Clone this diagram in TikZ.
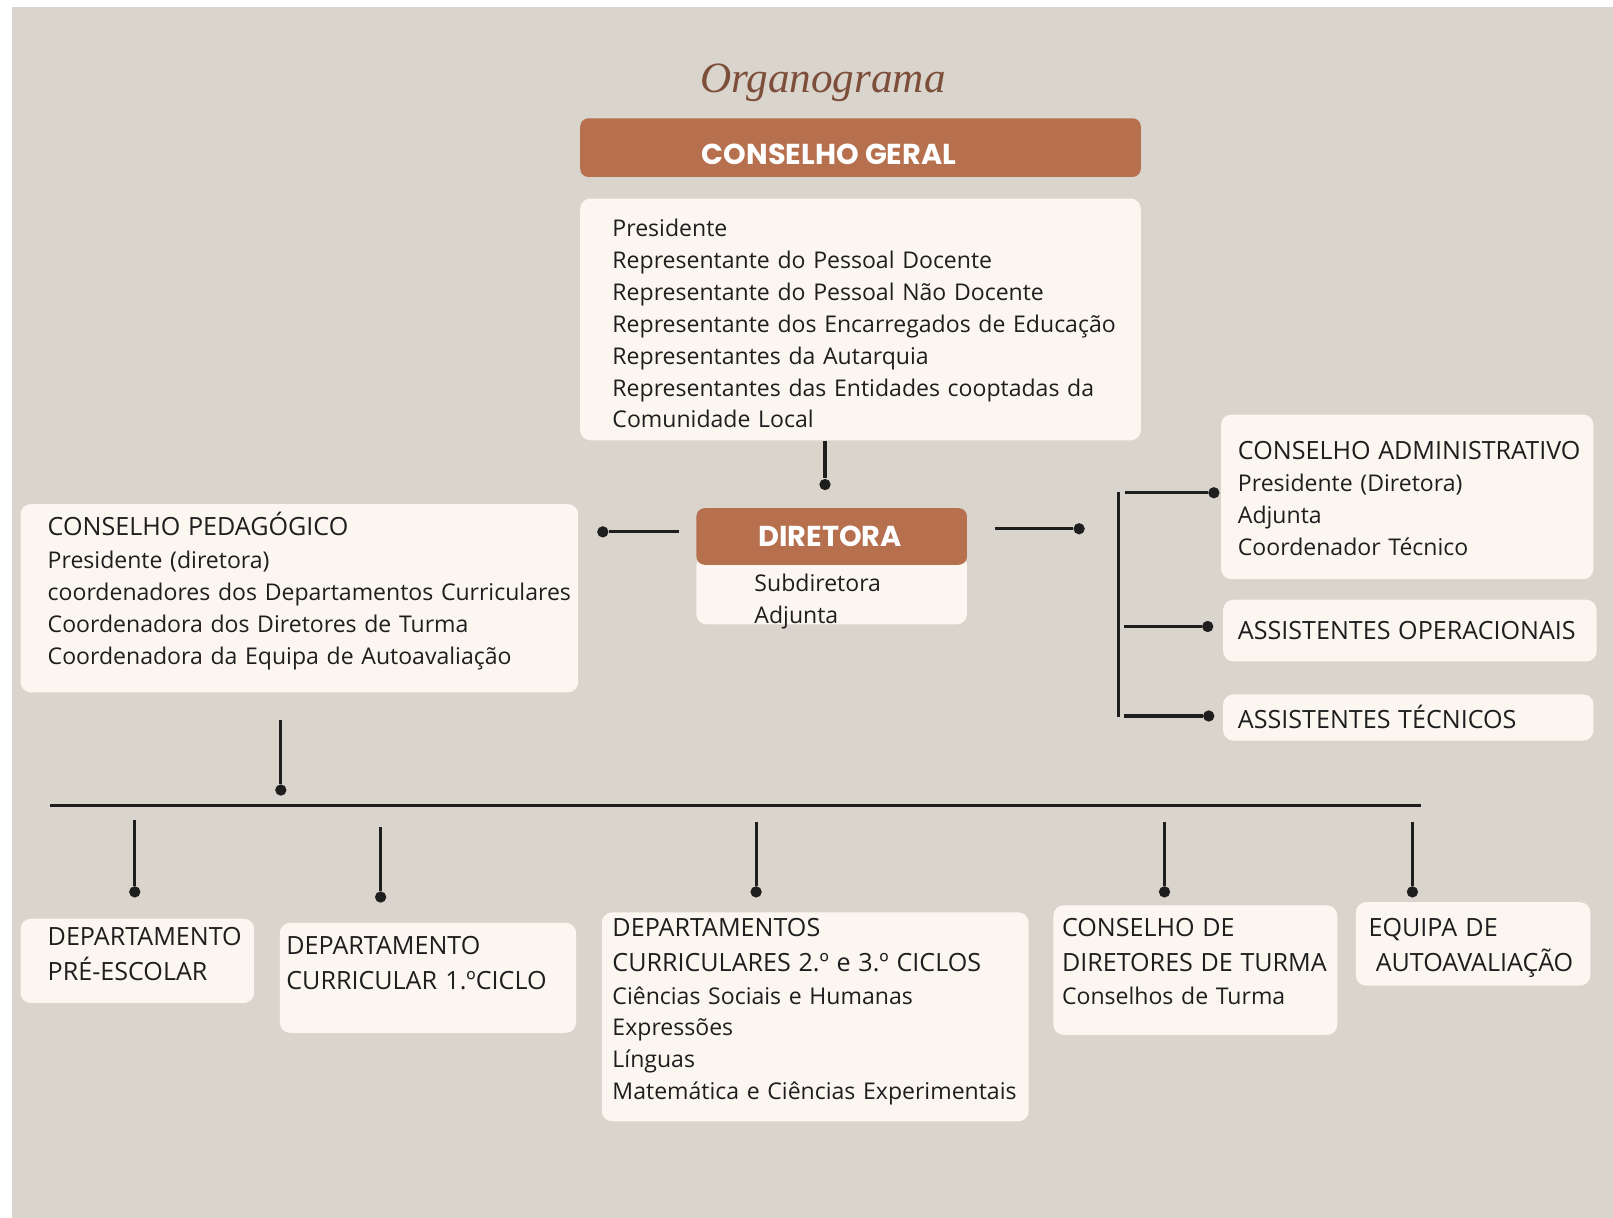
\documentclass[tikz,border=0pt]{standalone}
\usepackage{fontspec}
\setmainfont{Open Sans}
\newfontfamily\headfont{Poppins}
\newfontfamily\titlefont{Liberation Serif}
\usetikzlibrary{fit,calc}
\definecolor{paper}{HTML}{D9D4CC}
\definecolor{card}{HTML}{FBF7F0}
\definecolor{terra}{HTML}{B6704E}
\definecolor{ink}{HTML}{1E1E1E}
\definecolor{titlebrown}{HTML}{7D4E3A}
\newcommand{\capfont}{\fontsize{12.2}{15.5}\selectfont}

\begin{document}
\begin{tikzpicture}[x=0.5pt,y=-0.5pt,
  card/.style={fill=card,draw=none,rounded corners=5pt,inner sep=0pt},
  bar/.style={fill=terra,draw=none,rounded corners=4pt,inner sep=0pt},
  bartext/.style={text=white,font=\headfont\bfseries\fontsize{14}{14}\selectfont},
  txt/.style={anchor=base west,inner sep=0pt,align=left,text=ink,
    font=\fontsize{11.2}{15.5}\selectfont},
  dot/.style={circle,fill=ink,inner sep=0pt,minimum size=5.5pt},
  wire/.style={draw=ink,line width=1.5pt}]
\fill[white] (0,0) rectangle (1568,1184);
\fill[paper] (12,7) rectangle (1568,1184);
\useasboundingbox (0,0) rectangle (1568,1184);

\node[font=\titlefont\itshape\fontsize{21}{21}\selectfont,text=titlebrown] (title) at (800,80) {Organograma};

\node[bar,fit={(564,115) (1109,172)}] (cgbar) {};
\node[bartext] (cgtitle) at (806,150) {CONSELHO GERAL};
\node[card,fit={(564,193) (1109,428)}] (cgbox) {};
\node[txt,text width=260pt] (cgtext) at (595,230) {Presidente\\
Representante do Pessoal Docente\\
Representante do Pessoal Não Docente\\
Representante dos Encarregados de Educação\\
Representantes da Autarquia\\
Representantes das Entidades cooptadas da\\
Comunidade Local};

\node[card,fit={(677,540) (940,607)}] (dirbox) {};
\node[bar,fit={(677,494) (940,549)}] (dirbar) {};
\node[bartext] (dirtitle) at (807,521) {DIRETORA};
\node[txt,text width=100pt] (dirtext) at (733,575) {Subdiretora\\Adjunta};

\node[card,fit={(20,490) (562,673)}] (cpbox) {};
\node[txt,text width=260pt] (cptext) at (46,521) {{\capfont CONSELHO PEDAGÓGICO}\\[0.5pt]
Presidente (diretora)\\
coordenadores dos Departamentos Curriculares\\
Coordenadora dos Diretores de Turma\\
Coordenadora da Equipa de Autoavaliação};

\node[card,fit={(1187,403) (1549,563)}] (cabox) {};
\node[txt,text width=175pt] (catext) at (1203,447) {{\capfont CONSELHO ADMINISTRATIVO}\\
Presidente (Diretora)\\
Adjunta\\
Coordenador Técnico};
\node[card,fit={(1189,583) (1552,643)}] (aobox) {};
\node[txt,text width=175pt] (aotext) at (1203,622) {\capfont ASSISTENTES OPERACIONAIS};
\node[card,fit={(1189,675) (1549,720)}] (atbox) {};
\node[txt,text width=175pt] (attext) at (1203,708) {\capfont ASSISTENTES TÉCNICOS};

\node[card,fit={(20,893) (247,975)}] (dpebox) {};
\node[txt,text width=105pt,font=\capfont] (dpetext) at (46,919) {DEPARTAMENTO\\[1.5pt]PRÉ-ESCOLAR};
\node[card,fit={(272,897) (560,1004)}] (d1box) {};
\node[txt,text width=135pt,font=\capfont] (d1text) at (278,928) {DEPARTAMENTO\\[1.5pt]CURRICULAR 1.ºCICLO};
\node[card,fit={(585,887) (1000,1090)}] (d23box) {};
\node[txt,text width=200pt] (d23text) at (595,910) {{\capfont DEPARTAMENTOS}\\[1.5pt]
{\capfont CURRICULARES 2.º e 3.º CICLOS}\\[0.5pt]
Ciências Sociais e Humanas\\
Expressões\\
Línguas\\
Matemática e Ciências Experimentais};
\node[card,fit={(1024,880) (1300,1006)}] (cdtbox) {};
\node[txt,text width=135pt] (cdttext) at (1032,910) {{\capfont CONSELHO DE}\\[1.5pt]
{\capfont DIRETORES DE TURMA}\\[0.5pt]
Conselhos de Turma};
\node[card,fit={(1318,877) (1546,958)}] (eqbox) {};
\node[txt,text width=108pt,font=\capfont] (eqtext) at (1330,910) {EQUIPA DE\\[1.5pt]\hspace*{3.5pt}AUTOAVALIAÇÃO};

\node[dot] (dcg) at (802,471) {};
\draw[wire] (cgbox.south -| dcg) -- (dcg);

\coordinate (pl) at (660,517);
\node[dot] (dcp) at (586,517) {};
\draw[wire] (pl) -- (dcp);
\coordinate (pr) at (967,514);
\node[dot] (ddir) at (1049,514) {};
\draw[wire] (pr) -- (ddir);

\coordinate (vt) at (1087,478);
\coordinate (vb) at (1087,697);
\draw[wire] (vt) -- (vb);
\node[dot] (dca) at (1180,479) {};
\node[dot] (dao) at (1174,609) {};
\node[dot] (dat) at (1175,696) {};
\draw[wire] (1094,479) -- (dca);
\draw[wire] (1093,609) -- (dao);
\draw[wire] (1093,696) -- (dat);

\coordinate (busl) at (49,783);
\coordinate (busr) at (1381,783);
\draw[draw=ink,line width=1.7pt] (busl) -- (busr);
\coordinate (cpl) at (273,700);
\node[dot] (dbus) at (273,768) {};
\draw[wire] (cpl) -- (dbus);

\node[dot] (dpe) at (131,867) {};
\node[dot] (d1) at (370,872) {};
\node[dot] (d23) at (735,867) {};
\node[dot] (dcdt) at (1132,867) {};
\node[dot] (deq) at (1373,867) {};
\draw[wire] (131,797) -- (dpe);
\draw[wire] (370,804) -- (d1);
\draw[wire] (735,799) -- (d23);
\draw[wire] (1132,799) -- (dcdt);
\draw[wire] (1373,799) -- (deq);
\end{tikzpicture}
\end{document}
